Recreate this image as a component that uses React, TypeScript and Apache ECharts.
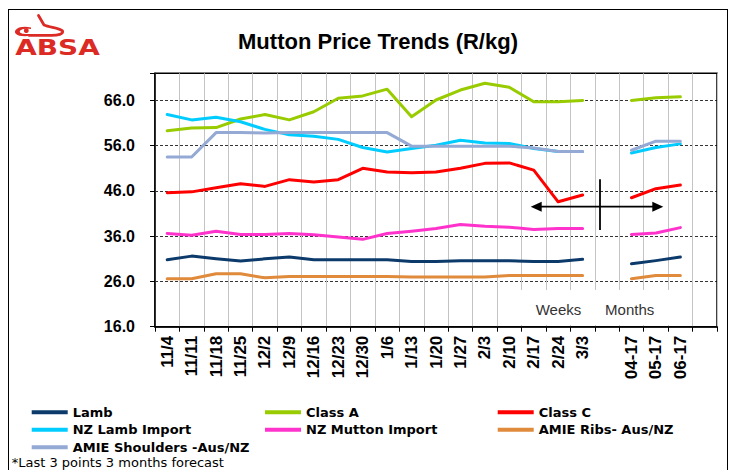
import React, { useEffect, useRef } from "react";
import * as echarts from "echarts";

const categories = ["11/4","11/11","11/18","11/25","12/2","12/9","12/16","12/23","12/30","1/6","1/13","1/20","1/27","2/3","2/10","2/17","2/24","3/3","","04-17","05-17","06-17",""];

const lamb = [30.8,31.6,31.0,30.5,31.0,31.4,30.8,30.8,30.8,30.8,30.4,30.4,30.6,30.6,30.6,30.4,30.4,30.9,null,29.9,30.6,31.4,null];
const classA = [59.3,59.9,60.0,61.9,62.9,61.7,63.5,66.5,67.0,68.5,62.4,66.1,68.3,69.8,68.9,65.7,65.7,66.0,null,66.0,66.6,66.8,null];
const classC = [45.6,45.8,46.7,47.6,47.0,48.5,48.0,48.5,51.0,50.2,50.0,50.2,51.0,52.1,52.2,50.6,43.6,45.1,null,44.5,46.5,47.3,null];
const nzLamb = [62.9,61.7,62.3,61.3,59.6,58.4,58.1,57.4,55.6,54.6,55.4,56.1,57.2,56.6,56.5,55.4,54.7,54.7,null,54.4,55.6,56.4,null];
const nzMutton = [36.6,36.2,37.1,36.4,36.4,36.6,36.3,35.8,35.3,36.6,37.1,37.7,38.6,38.2,38.0,37.5,37.7,37.7,null,36.4,36.7,37.9,null];
const amieRibs = [26.6,26.6,27.7,27.7,26.8,27.1,27.1,27.1,27.1,27.1,27.0,27.0,27.0,27.0,27.3,27.3,27.3,27.3,null,26.6,27.3,27.3,null];
const amieShoulders = [53.5,53.5,58.9,58.9,58.8,58.9,58.9,58.9,58.9,58.9,55.9,55.9,55.9,55.9,55.9,55.5,54.7,54.7,null,55.0,57.0,57.0,null];

const seriesNames = ["Lamb","Class A","Class C","NZ Lamb Import","NZ Mutton Import","AMIE Ribs- Aus/NZ","AMIE Shoulders -Aus/NZ"];
const seriesColors = ["#0b3a6b","#99cc00","#ff0000","#00ccff","#ff33cc","#e08a3c","#95a9d5"];
const seriesData = [lamb, classA, classC, nzLamb, nzMutton, amieRibs, amieShoulders];

const yMin = 16;
const yMax = 72;
const yInterval = 10;

const titleText = "Mutton Price Trends (R/kg)";
const footnote = "*Last 3 points 3 months forecast";

const crescentD =
  "M31 27.5 C 20 25, 13 29.5, 15.5 33.5 C 18 36.8, 26 36.5, 31 35.8 L 31 34 C 26 34.3, 20.5 34, 19.8 32 C 19.2 29.8, 24 28, 31 29 Z";
const swooshD =
  "M38.5 15.5 L 44 25 C 50 27.5, 60 28, 62.5 31 C 64 34, 58 35.5, 50 35.3 L 29 35.3";
echarts.graphic.registerShape("absaCrescent", echarts.graphic.extendPath(crescentD, {}));
echarts.graphic.registerShape("absaSwoosh", echarts.graphic.extendPath(swooshD, {}));

export default function App() {
  const ref = useRef<HTMLDivElement>(null);

  useEffect(() => {
    if (!ref.current) return;
    const chart = echarts.init(ref.current, undefined, { renderer: "svg" });

    const legendCommon: any = {
      orient: "vertical",
      icon: "rect",
      itemWidth: 36,
      itemHeight: 4,
      itemGap: 4.5,
      padding: 0,
      selectedMode: false,
      textStyle: { fontFamily: "DejaVu Sans", fontWeight: "bold", fontSize: 13, color: "#000", lineHeight: 13 },
    };

    const option: any = {
      animation: false,
      backgroundColor: "#fff",
      grid: {
        left: 146,
        top: 63.3,
        width: 562,
        height: 253.4,
        show: true,
        borderColor: "#000",
        borderWidth: 1.5,
        backgroundColor: "transparent",
      },
      legend: [
        { ...legendCommon, left: 22.7, top: 395.8, data: ["Lamb", "NZ Lamb Import", "AMIE Shoulders -Aus/NZ"] },
        { ...legendCommon, left: 256, top: 395.8, data: ["Class A", "NZ Mutton Import"] },
        { ...legendCommon, left: 488.7, top: 395.8, data: ["Class C", "AMIE Ribs- Aus/NZ"] },
      ],
      xAxis: {
        type: "category",
        data: categories,
        boundaryGap: true,
        axisLine: { show: true, lineStyle: { color: "#000", width: 1.5 } },
        axisTick: { show: true, length: 5, interval: 0, lineStyle: { color: "#000", width: 1 } },
        axisLabel: {
          interval: 0,
          rotate: 90,
          margin: 9,
          color: "#000",
          fontFamily: "Liberation Sans, Arial",
          fontWeight: "bold",
          fontSize: 17,
        },
        splitLine: { show: true, interval: 0, lineStyle: { color: "#c4c4c4", width: 1 } },
      },
      yAxis: {
        type: "value",
        min: yMin,
        max: yMax,
        interval: yInterval,
        axisLine: { show: true, lineStyle: { color: "#000", width: 1.5 } },
        axisTick: { show: true, length: 5, lineStyle: { color: "#000" } },
        axisLabel: {
          margin: 20,
          color: "#000",
          fontFamily: "Liberation Sans, Arial",
          fontWeight: "bold",
          fontSize: 16,
          formatter: (v: number) => (v > 70 ? "" : v.toFixed(1)),
        },
        splitLine: { show: true, lineStyle: { color: "#000", width: 0.8, type: [3, 2] } },
      },
      series: seriesNames.map((name, i) => ({
        name,
        type: "line",
        data: seriesData[i],
        color: seriesColors[i],
        showSymbol: false,
        symbol: "none",
        connectNulls: false,
        lineStyle: { width: 3, color: seriesColors[i], cap: "round", join: "round" },
      })),
      graphic: [
        {
          type: "text",
          x: 369,
          y: 31,
          style: {
            text: titleText,
            fontFamily: "Liberation Sans, Arial",
            fontWeight: "bold",
            fontSize: 22,
            fill: "#000",
            align: "center",
            verticalAlign: "middle",
          },
        },
        {
          type: "text",
          x: 48.5,
          y: 37.5,
          scaleX: 1.27,
          style: {
            text: "ABSA",
            fontFamily: "DejaVu Sans",
            fontWeight: "bold",
            fontSize: 22,
            fill: "#dc2a24",
            align: "center",
            verticalAlign: "middle",
          },
        },
        {
          type: "absaCrescent",
          x: -9,
          y: -10,
          style: { fill: "#dc2a24", stroke: "none" },
        },
        {
          type: "absaSwoosh",
          x: -9,
          y: -10,
          style: { fill: "none", stroke: "#dc2a24", lineWidth: 2.8, lineCap: "round", lineJoin: "round" },
        },
        {
          type: "circle",
          shape: { cx: 17.3, cy: 20.7, r: 2.4 },
          style: { fill: "#dc2a24" },
        },
        {
          type: "rect",
          z: 5,
          shape: { x: 506, y: 280, width: 165, height: 35 },
          style: { fill: "#fff" },
        },
        {
          type: "text",
          z: 6,
          x: 549.5,
          y: 299,
          style: {
            text: "Weeks",
            fontFamily: "Liberation Sans, Arial",
            fontSize: 15,
            fill: "#333",
            align: "center",
            verticalAlign: "middle",
          },
        },
        {
          type: "text",
          z: 6,
          x: 620.7,
          y: 299,
          style: {
            text: "Months",
            fontFamily: "Liberation Sans, Arial",
            fontSize: 15,
            fill: "#333",
            align: "center",
            verticalAlign: "middle",
          },
        },
        {
          type: "line",
          z: 10,
          shape: { x1: 530, y1: 196.7, x2: 646, y2: 196.7 },
          style: { stroke: "#000", lineWidth: 1.8 },
        },
        {
          type: "polygon",
          z: 10,
          shape: { points: [[521.7, 196.7], [532.7, 191.7], [532.7, 201.7]] },
          style: { fill: "#000" },
        },
        {
          type: "polygon",
          z: 10,
          shape: { points: [[654.3, 196.7], [643.3, 191.7], [643.3, 201.7]] },
          style: { fill: "#000" },
        },
        {
          type: "line",
          z: 10,
          shape: { x1: 591, y1: 169.3, x2: 591, y2: 220 },
          style: { stroke: "#000", lineWidth: 1.8 },
        },
        {
          type: "text",
          x: 2.7,
          y: 452,
          style: {
            text: footnote,
            fontFamily: "DejaVu Sans",
            fontSize: 13,
            lineHeight: 12,
            fill: "#000",
            align: "left",
            verticalAlign: "middle",
          },
        },
      ],
    };

    chart.setOption(option);
    return () => chart.dispose();
  }, []);

  return (
    <div
      style={{
        position: "fixed",
        left: 8,
        top: 9,
        width: 720,
        height: 480,
        border: "1px solid #000",
        boxSizing: "border-box",
        background: "#fff",
      }}
    >
      <div ref={ref} style={{ width: 718, height: 470 }} />
    </div>
  );
}
